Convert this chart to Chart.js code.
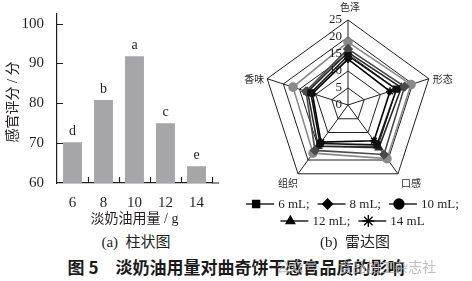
<!DOCTYPE html>
<html>
<head>
<meta charset="utf-8">
<script src="https://cdn.jsdelivr.net/npm/chart.js@4.4.1/dist/chart.umd.min.js"></script>
<style>
  body { margin: 0; background: #fff; width: 472px; height: 281px; overflow: hidden; position: relative;
         font-family: "Liberation Serif", "Noto Sans CJK SC", serif; color: #231f20; }
  #barBox { position: absolute; left: 0; top: 0; width: 230px; height: 232px; }
  #radarBox { position: absolute; left: 220px; top: 0; width: 252px; height: 232px; }
  .sub { position: absolute; top: 232px; font-size: 15px; line-height: 20px; white-space: pre; transform: translateX(-50%); }
  #cap { position: absolute; left: 236px; top: 256px; transform: translateX(-50%); white-space: pre;
         font-family: "Noto Sans CJK SC", sans-serif; font-weight: bold; font-size: 17px; line-height: 22px; color: #1a1a1a; }
  #wm { position: absolute; left: 276px; top: 256px; font-family: "Noto Sans CJK SC", sans-serif; font-size: 14px;
        line-height: 20px; color: rgba(170,170,170,0.75); white-space: pre; }
</style>
</head>
<body>
<div id="barBox"><canvas id="bar"></canvas></div>
<div id="radarBox"><canvas id="radar"></canvas></div>
<div class="sub" style="left:136px">(a)  柱状图</div>
<div class="sub" style="left:355px">(b)  雷达图</div>
<div id="cap">图 5　淡奶油用量对曲奇饼干感官品质的影响</div>
<div id="wm">公众号 · 食品加工杂志社</div>
<script>
// bar chart data
var doses = ["6", "8", "10", "12", "14"];
var scores = [70.2, 80.8, 91.8, 75.0, 64.2];
var letters = ["d", "b", "a", "c", "e"];
var yTicks = [60, 70, 80, 90, 100];

// radar data (色泽, 形态, 口感, 组织, 香味)
var radarLabels = ["色泽", "形态", "口感", "组织", "香味"];
var radarTicks = [0, 5, 10, 15, 20, 25];
var seriesNames = ["6 mL", "8 mL", "10 mL", "12 mL", "14 mL"];
var s6 = [14.5, 15, 14.5, 14, 11.5];
var s8 = [16.5, 17.5, 18, 16.5, 13];
var s10 = [18.5, 19.5, 19.5, 17.5, 17];
var s12 = [15.5, 16.5, 15.5, 15, 12.5];
var s14 = [13.5, 13, 13, 13.5, 11];

var ink = "#231f20";
var serif = "'Liberation Serif', 'Noto Sans CJK SC', serif";

var barExtras = {
  id: "barExtras",
  afterDraw: function (chart) {
    var ctx = chart.ctx, a = chart.chartArea;
    var xs = chart.scales.x, ys = chart.scales.y;
    ctx.save();
    ctx.strokeStyle = ink;
    ctx.lineWidth = 1.2;
    ctx.beginPath();
    // inward y ticks
    for (var i = 1; i < yTicks.length; i++) {
      var y = Math.round(ys.getPixelForValue(yTicks[i])) + 0.5;
      ctx.moveTo(a.left, y);
      ctx.lineTo(a.left + 6, y);
    }
    // inward x ticks at category edges
    for (var j = 1; j <= doses.length; j++) {
      var x = Math.round(xs.getPixelForValue(j - 0.5)) + 0.5;
      ctx.moveTo(x, a.bottom);
      ctx.lineTo(x, a.bottom - 6);
    }
    // axis runs a bit past the last category
    ctx.moveTo(a.right, a.bottom);
    ctx.lineTo(a.right + 7, a.bottom);
    ctx.stroke();
    // significance letters
    var meta = chart.getDatasetMeta(0);
    ctx.fillStyle = ink;
    ctx.font = "14px " + serif;
    ctx.textAlign = "center";
    ctx.textBaseline = "bottom";
    meta.data.forEach(function (bar, k) {
      ctx.fillText(letters[k], bar.x, bar.y - 4);
    });
    // y title, centred on the axis as in the print
    ctx.save();
    ctx.translate(13, 102);
    ctx.rotate(-Math.PI / 2);
    ctx.textBaseline = "middle";
    ctx.fillText("感官评分 / 分", 0, 0);
    ctx.restore();
    ctx.restore();
  }
};

new Chart("bar", {
  type: "bar",
  data: {
    labels: doses,
    datasets: [{
      data: scores,
      backgroundColor: "#a6a6a9",
      barPercentage: 0.61,
      categoryPercentage: 1
    }]
  },
  options: {
    responsive: true,
    maintainAspectRatio: false,
    animation: false,
    layout: { padding: { top: 8, right: 18, left: 0, bottom: 0 } },
    plugins: { legend: { display: false }, tooltip: { enabled: false } },
    scales: {
      x: {
        grid: { display: false },
        border: { color: ink, width: 1.2 },
        ticks: { padding: 3, color: ink, font: { family: serif, size: 15 } },
        title: { display: true, text: "淡奶油用量 / g", color: ink, font: { family: serif, size: 14 }, padding: { top: 4, bottom: 4 } },
        afterFit: function (s) { s.height = 49; }
      },
      y: {
        min: 60,
        max: 102.4,
        grid: { display: false },
        border: { color: ink, width: 1.2 },
        ticks: { stepSize: 10, includeBounds: false, padding: 5, color: ink, font: { family: serif, size: 15 } },
        afterFit: function (s) { s.width = 57; }
      }
    }
  },
  plugins: [barExtras]
});

var styles = ["rect", "rectRot", "circle", "triangle", "star"];
var colors = ["#111111", "#4a4a4a", "#8a8a8a", "#2a2a2a", "#000000"];
var allSeries = [s6, s8, s10, s12, s14];

var radarExtras = {
  id: "radarExtras",
  afterDraw: function (chart) {
    var ctx = chart.ctx, r = chart.scales.r;
    ctx.save();
    ctx.fillStyle = ink;
    // radial tick labels, left of the vertical axis
    ctx.font = "13px " + serif;
    ctx.textAlign = "right";
    ctx.textBaseline = "middle";
    radarTicks.forEach(function (v) {
      ctx.fillText(String(v), r.xCenter - 6, r.yCenter - r.getDistanceFromCenterForValue(v));
    });
    // point labels
    ctx.font = "10px 'Noto Sans CJK SC', sans-serif";
    var offs = [[2, -13, "center"], [4, 0, "left"], [13, 9, "center"], [-10, 9, "center"], [-3, 0, "right"]];
    radarLabels.forEach(function (lab, i) {
      var p = r.getPointPosition(i, r.drawingArea);
      ctx.textAlign = offs[i][2];
      ctx.fillText(lab, p.x + offs[i][0], p.y + offs[i][1]);
    });
    // legend rows
    ctx.font = "13px " + serif;
    ctx.textAlign = "left";
    var rows = [[0, 1, 2], [3, 4]];
    var rowY = [204, 221];
    rows.forEach(function (row, ri) {
      var items = row.map(function (k) {
        var txt = seriesNames[k] + (k === 4 ? "" : ";");
        return { k: k, txt: txt, w: 28 + 4 + ctx.measureText(txt).width };
      });
      var total = 0;
      items.forEach(function (it, n) { total += it.w + (n ? 8 : 0); });
      var x = 132.5 - total / 2;
      items.forEach(function (it) {
        var y = rowY[ri];
        ctx.strokeStyle = "#000";
        ctx.lineWidth = 1.3;
        ctx.beginPath();
        ctx.moveTo(x, y);
        ctx.lineTo(x + 28, y);
        ctx.stroke();
        ctx.fillStyle = "#000";
        Chart.helpers.drawPoint(ctx, { pointStyle: styles[it.k], radius: it.k === 4 ? 6 : 5, borderWidth: 1.2, rotation: 0 }, x + 10, y);
        ctx.fillStyle = ink;
        ctx.fillText(it.txt, x + 32, y + 1);
        x += it.w + 8;
      });
    });
    ctx.restore();
  }
};

new Chart("radar", {
  type: "radar",
  data: {
    labels: radarLabels,
    datasets: allSeries.map(function (d, i) {
      return {
        label: seriesNames[i],
        data: d,
        borderColor: colors[i],
        backgroundColor: colors[i],
        pointBackgroundColor: colors[i],
        pointBorderColor: colors[i],
        pointStyle: styles[i],
        pointRadius: 4,
        borderWidth: 1.6,
        fill: false
      };
    })
  },
  options: {
    responsive: true,
    maintainAspectRatio: false,
    animation: false,
    layout: { padding: { left: 43, right: 39, top: 20, bottom: 42 } },
    plugins: { legend: { display: false }, tooltip: { enabled: false } },
    scales: {
      r: {
        min: 0,
        max: 25,
        ticks: { display: false, stepSize: 5 },
        pointLabels: { display: false },
        grid: { color: ink, lineWidth: 1 },
        angleLines: { color: ink, lineWidth: 1 }
      }
    }
  },
  plugins: [radarExtras]
});
</script>
</body>
</html>
